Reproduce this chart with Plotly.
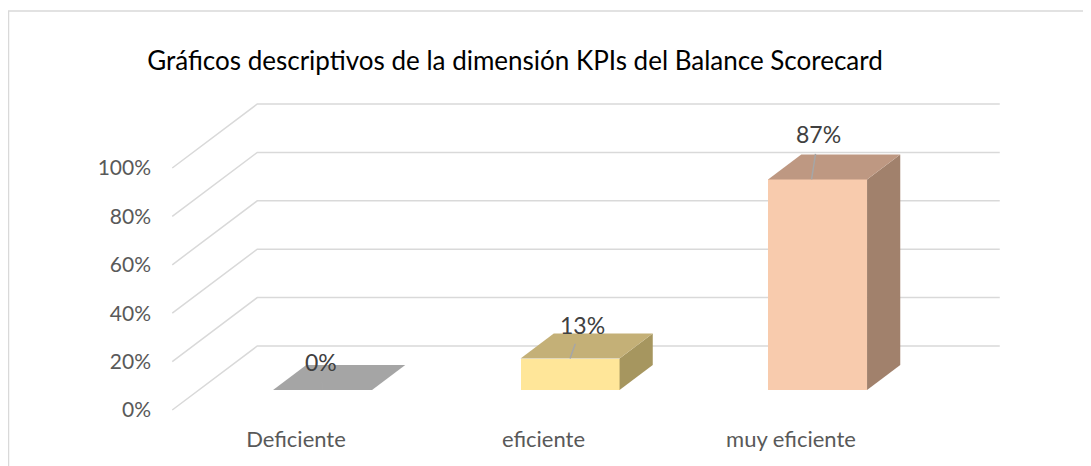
import plotly.graph_objects as go

# ---------------- data ----------------
categories = ["Deficiente", "eficiente", "muy eficiente"]
values = [0.00, 0.13, 0.87]
y_ticks = [0.0, 0.2, 0.4, 0.6, 0.8, 1.0]
title_text = "Gráficos descriptivos de la dimensión KPIs del Balance Scorecard"

# ---------------- style ----------------
front_colors = ["#A5A5A5", "#FFE699", "#F8CBAD"]
top_colors = ["#A5A5A5", "#C4B077", "#BE9882"]
side_colors = ["#A5A5A5", "#A6965F", "#A1816C"]
# data-label nudges: (tip x-shift, text ax, text ay) in px
label_nudges_px = [(0, -2, -28), (0, 12, -34), (-6, 7, -45)]

FONT = "Lato"
W, H = 1091, 466
ML, MR, MT, MB = 152, 0, 0, 50
PX_X = 247.5      # pixels per category step
PX_Y = 242.0      # pixels per 100 %
X0_PX = 288.0     # pixel column of first category (front)
Y0_PX = 402.0     # pixel row of 0 % (front)

x_range = [(ML - X0_PX) / PX_X, (W - MR - X0_PX) / PX_X]
y_range = [(Y0_PX - (H - MB)) / PX_Y, (Y0_PX - MT) / PX_Y]

# oblique projection of depth (full floor depth)
DEPTH_DX = 85.0 / PX_X
DEPTH_DY = 64.0 / PX_Y
Z0, Z1 = 0.3125, 0.703     # bar front / back depth (fraction of floor)
HALF_W = 0.2               # half bar width (category units)

n = len(categories)
x_left, x_right = -0.5, n - 0.5

fig = go.Figure()

# ---- back wall / side wall gridlines (below traces) ----
shapes = []
for v in y_ticks:
    path = (f"M {x_left},{v} L {x_left + DEPTH_DX},{v + DEPTH_DY} "
            f"L {x_right + DEPTH_DX},{v + DEPTH_DY}")
    shapes.append(dict(type="path", path=path, xref="x", yref="y", layer="below",
                       line=dict(color="#D9D9D9", width=1.5)))

# chart frame (outer border)
px_to_paper_x = lambda p: (p - ML) / (W - ML - MR)
px_to_paper_y = lambda p: ((H - MB) - p) / (H - MT - MB)
shapes.append(dict(type="path", xref="paper", yref="paper", layer="below",
                   path=(f"M {px_to_paper_x(0.5)},{px_to_paper_y(480)} "
                         f"L {px_to_paper_x(0.5)},{px_to_paper_y(3)} "
                         f"L {px_to_paper_x(1100)},{px_to_paper_y(3)}"),
                   line=dict(color="#D9D9D9", width=1.5)))

# ---- bars: front faces ----
base = Z0 * DEPTH_DY
front_x = [i + Z0 * DEPTH_DX for i in range(n)]
fig.add_trace(go.Bar(x=front_x, y=values, base=base, width=2 * HALF_W,
                     marker=dict(color=front_colors, line=dict(width=0)),
                     hoverinfo="skip", showlegend=False))

dxb = (Z1 - Z0) * DEPTH_DX
dyb = (Z1 - Z0) * DEPTH_DY
for i, v in enumerate(values):
    xl = front_x[i] - HALF_W
    xr = front_x[i] + HALF_W
    top = base + v
    # side face
    if v > 0:
        fig.add_trace(go.Scatter(
            x=[xr, xr + dxb, xr + dxb, xr, xr],
            y=[base, base + dyb, top + dyb, top, base],
            mode="lines", fill="toself", fillcolor=side_colors[i],
            line=dict(width=0, color=side_colors[i]),
            hoverinfo="skip", showlegend=False))
    # top face
    fig.add_trace(go.Scatter(
        x=[xl, xr, xr + dxb, xl + dxb, xl],
        y=[top, top, top + dyb, top + dyb, top],
        mode="lines", fill="toself", fillcolor=top_colors[i],
        line=dict(width=0, color=top_colors[i]),
        hoverinfo="skip", showlegend=False))

# ---- data labels with leader lines ----
annotations = []
for i, v in enumerate(values):
    sx, ax, ay = label_nudges_px[i]
    annotations.append(dict(
        x=front_x[i], y=base + v, xref="x", yref="y", xshift=sx,
        text=f"{v:.0%}", showarrow=True, arrowhead=0, arrowwidth=1.5,
        arrowcolor="#A6A6A6", ax=ax, ay=ay, startstandoff=4,
        font=dict(family=FONT, size=23, color="#404040")))

fig.update_layout(
    width=W, height=H,
    margin=dict(l=ML, r=MR, t=MT, b=MB, autoexpand=False),
    paper_bgcolor="white", plot_bgcolor="white",
    title=dict(text=title_text, x=px_to_paper_x(507), xref="paper", xanchor="center",
               y=1 - 53 / H, yref="container", yanchor="middle",
               font=dict(family=FONT, size=26, color="#000000")),
    shapes=shapes, annotations=annotations,
    showlegend=False, bargap=0,
    xaxis=dict(range=x_range, tickvals=list(range(n)), ticktext=categories,
               showgrid=False, zeroline=False, showline=False, ticks="",
               automargin=False, fixedrange=True,
               tickfont=dict(family=FONT, size=22, color="#595959")),
    yaxis=dict(range=y_range, tickvals=y_ticks, tickformat=".0%",
               showgrid=False, zeroline=False, showline=False, ticks="",
               automargin=False, fixedrange=True, ticklabelstandoff=8,
               tickfont=dict(family=FONT, size=21, color="#595959")),
)

fig.write_html("out.html")
